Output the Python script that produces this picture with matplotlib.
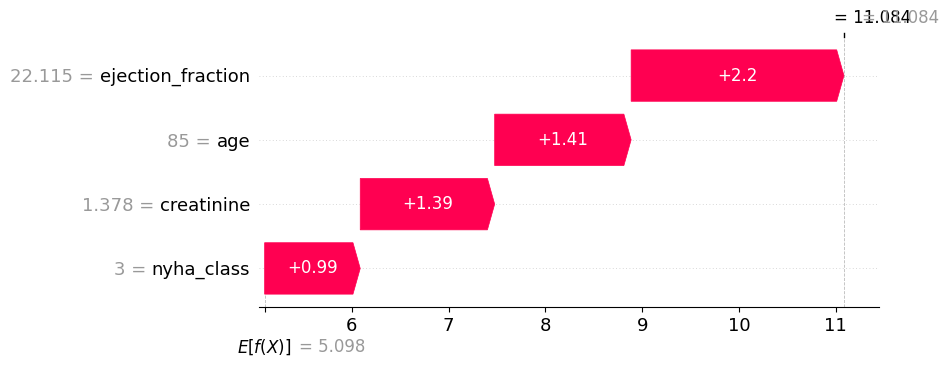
import matplotlib
matplotlib.use("Agg")
import matplotlib.pyplot as plt
from matplotlib.patches import Polygon

features = ["nyha_class", "creatinine", "age", "ejection_fraction"]
feature_values = ["3", "1.378", "85", "22.115"]
shap_values = [0.988, 1.389, 1.410, 2.199]
labels = ["+0.99", "+1.39", "+1.41", "+2.2"]
base_value = 5.098
fx = 11.084
xticks = [6, 7, 8, 9, 10, 11]

RED = "#ff0051"
GRAY = "#999999"

fig = plt.figure(figsize=(9.5, 3.67), dpi=100)
W, H = 950, 367
ax_l, ax_r, ax_t, ax_b = 259, 879, 37, 307
ax = fig.add_axes([ax_l / W, 1 - ax_b / H, (ax_r - ax_l) / W, (ax_b - ax_t) / H])
ax.set_xlim(5.04, 11.446)
ax.set_ylim(-0.6, 3.6)

bar_h = 0.8
head = 0.075
left = base_value
for i, v in enumerate(shap_values):
    right = left + v
    y = i
    pts = [(left, y - bar_h / 2), (right - head, y - bar_h / 2), (right, y),
           (right - head, y + bar_h / 2), (left, y + bar_h / 2)]
    ax.add_patch(Polygon(pts, closed=True, facecolor=RED, edgecolor=RED, linewidth=0.5, zorder=3))
    ax.text((left + right) / 2, y, labels[i], color="white", fontsize=12,
            ha="center", va="center", zorder=4)
    ax.axhline(y, color="#cccccc", linestyle=(0, (1, 3)), linewidth=0.6, zorder=0)
    left = right

ax.axvline(fx, 0, 1, color="#bbbbbb", linestyle="--", linewidth=0.6, zorder=0)
ax.plot([base_value, base_value], [-0.6, -0.4], color="#bbbbbb", linestyle="--", linewidth=0.6, zorder=0)

for s in ["left", "right", "top"]:
    ax.spines[s].set_visible(False)
ax.set_xticks(xticks + [base_value])
ax.set_xticklabels([str(t) for t in xticks] + [""], fontsize=13)
ax.set_yticks([])

# y labels: black names, gray values
fig.canvas.draw()
renderer = fig.canvas.get_renderer()
for i, (name, val) in enumerate(zip(features, feature_values)):
    t = ax.annotate(name, xy=(0, i), xycoords=("axes fraction", "data"),
                    xytext=(-6.4, -1.2), textcoords="offset points",
                    ha="right", va="center", fontsize=13, color="black")
    fig.canvas.draw()
    bb = t.get_window_extent(renderer)
    wpts = bb.width * 72 / fig.dpi
    ax.annotate(val + " = ", xy=(0, i), xycoords=("axes fraction", "data"),
                xytext=(-6.4 - wpts, -1.2), textcoords="offset points",
                ha="right", va="center", fontsize=13, color=GRAY)

# bottom base label
fig.text(237 / W, 1 - 347 / H, r"$E[f(X)]$", fontsize=12, ha="left", va="center", color="black")
fig.text(299 / W, 1 - 347 / H, "= 5.098", fontsize=12, ha="left", va="center", color=GRAY)

# top f(x) labels
ax.plot([fx, fx], [3.6, 3.67], color="black", linewidth=1, clip_on=False)
fig.text(834 / W, 1 - 18 / H, "= 11.084", fontsize=12, ha="left", va="center", color="black")
fig.text(862 / W, 1 - 18 / H, "= 11.084", fontsize=12, ha="left", va="center", color=GRAY)

fig.savefig("out.png", dpi=100)
